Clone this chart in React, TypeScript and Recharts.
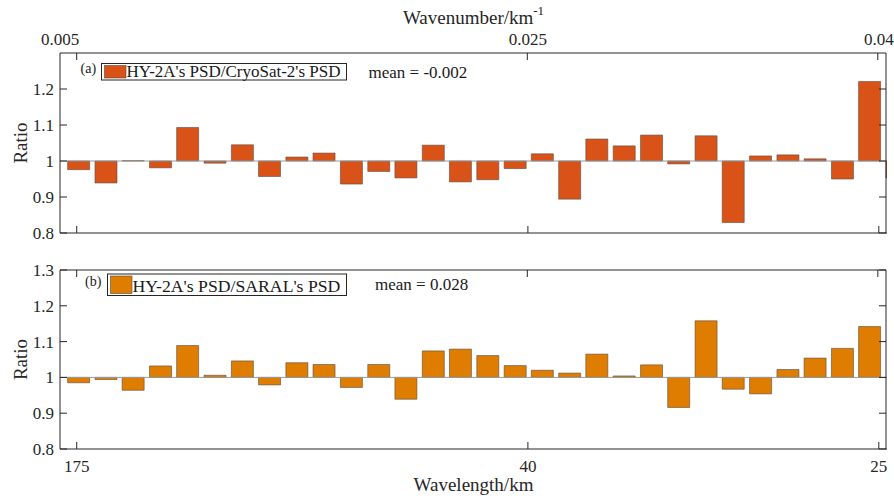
import { BarChart, Bar, Line, XAxis, YAxis, ReferenceLine } from 'recharts';

// bar centres, in wavenumber (1/km)
const wavenumbers = [
  0.00579, 0.00696, 0.00812, 0.00929, 0.01045, 0.01162, 0.01279, 0.01395, 0.01512, 0.01628,
  0.01745, 0.01862, 0.01978, 0.02095, 0.02211, 0.02328, 0.02445, 0.02561, 0.02678, 0.02794,
  0.02911, 0.03028, 0.03144, 0.03261, 0.03377, 0.03494, 0.03611, 0.03727, 0.03844, 0.0396,
  0.04077,
];

// HY-2A / CryoSat-2 PSD ratio (last one falls just outside the axis)
const cryosatRatio = [
  0.976, 0.939, 1.001, 0.981, 1.093, 0.994, 1.045, 0.957, 1.011, 1.022,
  0.936, 0.971, 0.953, 1.044, 0.942, 0.948, 0.979, 1.02, 0.894, 1.061,
  1.042, 1.072, 0.992, 1.07, 0.829, 1.014, 1.017, 1.006, 0.95, 1.221,
  0.953,
];

// HY-2A / SARAL PSD ratio
const saralRatio = [
  0.985, 0.994, 0.964, 1.032, 1.089, 1.006, 1.046, 0.979, 1.041, 1.036,
  0.972, 1.036, 0.939, 1.074, 1.079, 1.061, 1.033, 1.02, 1.012, 1.065,
  1.004, 1.035, 0.916, 1.158, 0.967, 0.954, 1.022, 1.054, 1.081, 1.142,
];

const wavenumberTicks = [0.005, 0.025, 0.04];
const wavelengthTicks = [0.005714, 0.025, 0.04]; // 1/175, 1/40, 1/25
const wavelengthLabels = ['175', '40', '25'];
const ratioTicksA = [0.8, 0.9, 1, 1.1, 1.2];
const ratioTicksB = [0.8, 0.9, 1, 1.1, 1.2, 1.3];

const X_DOMAIN: [number, number] = [0.005, 0.04035];
const Y_DOMAIN: [number, number] = [0.8, 1.3];
const FONT = '"Liberation Serif", "Times New Roman", serif';
const INK = '#262626';
const tickStyle = { fontSize: 17, fill: INK, fontFamily: FONT };
const noLabel = { fontSize: 1, fill: 'none' };
const blank = () => '';
const overlay: any = { position: 'absolute', left: 0, top: 0, pointerEvents: 'none' };

const ratioLabel = ({ viewBox }: any) => (
  <text
    x={26.5}
    y={viewBox.y + viewBox.height / 2}
    transform={`rotate(-90, 26.5, ${viewBox.y + viewBox.height / 2})`}
    textAnchor="middle"
    fontSize={19}
    fontFamily={FONT}
    fill={INK}
  >
    Ratio
  </text>
);

const wavenumberLabel = ({ viewBox }: any) => (
  <text x={viewBox.x + viewBox.width / 2} y={24} textAnchor="middle" fontSize={19} fontFamily={FONT} fill={INK}>
    Wavenumber/km
    <tspan dy={-9} fontSize={13}>-1</tspan>
  </text>
);

const wavelengthLabel = ({ viewBox }: any) => (
  <text x={viewBox.x + viewBox.width / 2} y={viewBox.y + 42} textAnchor="middle" fontSize={19} fontFamily={FONT} fill={INK}>
    Wavelength/km
  </text>
);

// box right edge with inward ticks: a left-oriented axis placed on the plot's right
function RightEdge({ data, height, margin, ticks }: any) {
  return (
    <div style={overlay}>
      <BarChart width={894} height={height} data={data} margin={{ top: margin.top, right: 0, bottom: margin.bottom, left: 885 }}>
        <XAxis hide height={0} type="number" dataKey="k" domain={X_DOMAIN} allowDataOverflow />
        <YAxis
          type="number" domain={Y_DOMAIN} allowDataOverflow
          ticks={ticks} interval={0} width={1}
          stroke={INK} tickSize={7} tick={noLabel} tickFormatter={blank}
        />
        <Line dataKey="v" stroke="none" dot={false} activeDot={false} isAnimationActive={false} />
      </BarChart>
    </div>
  );
}

// top edge of the box, with the mirrored wavelength ticks pointing inwards
function TopFrame({ left, right, y }: any) {
  const px = (t: number) => left + ((t - X_DOMAIN[0]) / (X_DOMAIN[1] - X_DOMAIN[0])) * (right - left);
  return (
    <g stroke={INK} strokeWidth={1}>
      <line x1={left} x2={right} y1={y} y2={y} />
      {wavelengthTicks.map((t) => (
        <line key={t} x1={px(t)} x2={px(t)} y1={y} y2={y + 7} />
      ))}
    </g>
  );
}

function Panel({ top, height, margin, values, color, ticks, upper, tag, legend, mean }: any) {
  const data = values.map((v: number, i: number) => ({ k: wavenumbers[i], v }));
  const L = legend;
  // plot area edges inside this panel
  const plotTop = margin.top + (upper ? 1 : 0);
  const plotBottom = margin.bottom + 1;
  return (
    <div style={{ position: 'absolute', left: 0, top, width: 894, height }}>
      <div style={overlay}>
        <BarChart width={894} height={height} data={data} margin={margin}>
          <XAxis
            xAxisId="x" type="number" dataKey="k" domain={X_DOMAIN} allowDataOverflow
            ticks={wavelengthTicks} interval={0} height={1}
            stroke={INK} tickSize={-7} tickMargin={18}
            tick={upper ? noLabel : tickStyle}
            tickFormatter={upper ? blank : (v: number) => wavelengthLabels[wavelengthTicks.indexOf(v)]}
            label={upper ? undefined : { content: wavelengthLabel }}
          />
          {upper && (
            <XAxis
              xAxisId="wn" orientation="top" type="number" dataKey="k" domain={X_DOMAIN} allowDataOverflow
              ticks={wavenumberTicks} interval={0} height={1}
              axisLine={false} tickLine={false} tickSize={0} tickMargin={8}
              tick={tickStyle} tickFormatter={(v: number) => String(v)}
              label={{ content: wavenumberLabel }}
            />
          )}
          <YAxis
            yAxisId="y" type="number" domain={Y_DOMAIN} allowDataOverflow
            ticks={ticks} interval={0} width={1}
            stroke={INK} tickSize={-7} tickMargin={13} tick={tickStyle}
            label={{ content: ratioLabel }}
          />
          <ReferenceLine xAxisId="x" yAxisId="y" y={1} stroke="#9a9a9a" strokeWidth={1} />
          <Bar
            xAxisId="x" yAxisId="y"
            dataKey={(d: any) => [Math.min(1, d.v), Math.max(1, d.v)]}
            fill={color} stroke="#5a4a40" strokeWidth={0.6}
            isAnimationActive={false}
          />
          {upper && (
            <Line xAxisId="wn" yAxisId="y" dataKey="v" stroke="none" dot={false} activeDot={false} isAnimationActive={false} />
          )}
          <TopFrame left={margin.left + 1} right={894 - margin.right - 1} y={plotTop} />
          <g fontFamily={FONT} fill="#1a1a1a">
            <text x={tag.x} y={tag.y} fontSize={14}>{tag.text}</text>
            <rect x={L.x} y={L.y} width={L.w} height={L.h} fill="#fff" stroke={INK} strokeWidth={1} />
            <rect x={L.x + 3} y={L.y + 2} width={21.5} height={L.h - 4} fill={color} stroke="#5a4a40" strokeWidth={0.6} />
            <text x={L.x + 25} y={L.base} fontSize={L.size}>{L.text}</text>
            <text x={mean.x} y={mean.y} fontSize={17}>{mean.text}</text>
          </g>
        </BarChart>
      </div>
      <RightEdge data={data} height={height} margin={{ top: plotTop, bottom: plotBottom }} ticks={ticks} />
    </div>
  );
}

export default function App() {
  return (
    <div style={{ position: 'absolute', left: 0, top: 0, width: 894, height: 501, background: '#fff' }}>
      <Panel
        top={0} height={250} margin={{ top: 52, right: 7, bottom: 16, left: 59 }}
        values={cryosatRatio} color="#D95319" ticks={ratioTicksA} upper
        tag={{ x: 80.5, y: 72.5, text: '(a)' }}
        legend={{ x: 101.5, y: 63.5, w: 245, h: 16.5, base: 77, size: 17, text: "HY-2A's PSD/CryoSat-2's PSD" }}
        mean={{ x: 368.5, y: 78, text: 'mean = -0.002' }}
      />
      <Panel
        top={250} height={251} margin={{ top: 20, right: 7, bottom: 51, left: 59 }}
        values={saralRatio} color="#DE7D00" ticks={ratioTicksB}
        tag={{ x: 85, y: 36, text: '(b)' }}
        legend={{ x: 107.5, y: 24, w: 239, h: 21.5, base: 41.5, size: 17.7, text: "HY-2A's PSD/SARAL's PSD" }}
        mean={{ x: 375, y: 40, text: 'mean = 0.028' }}
      />
    </div>
  );
}
